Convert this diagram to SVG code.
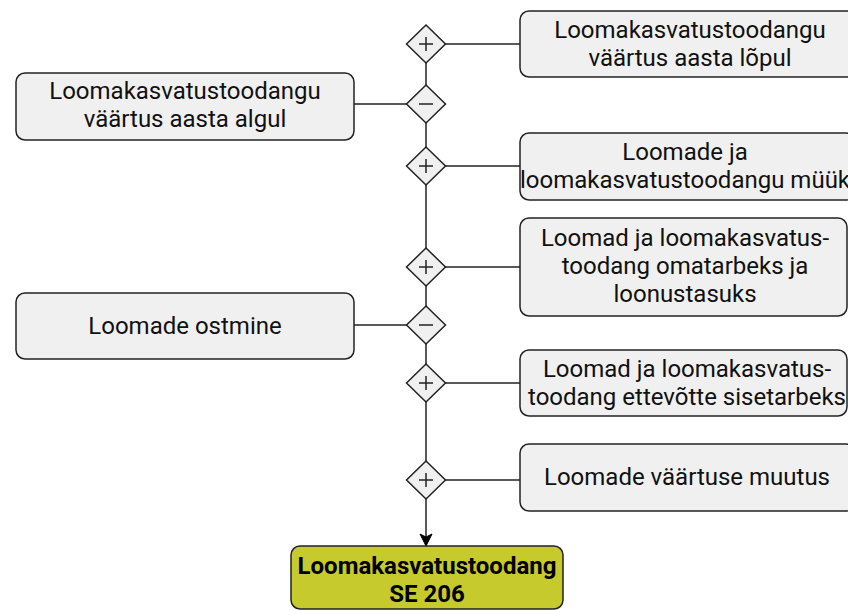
<svg xmlns="http://www.w3.org/2000/svg" width="848" height="610" viewBox="0 0 848 610">
<style>
.box{fill:#f0f0f0;stroke:#222;stroke-width:1.5}
.dia{fill:#f0f0f0;stroke:#222;stroke-width:1.5}
.sign{stroke:#222;stroke-width:1.5;fill:none}
.ln{stroke:#222;stroke-width:1.5;fill:none}
text{font-family:Roboto,"Liberation Sans",sans-serif;font-size:24px;fill:#111;text-anchor:middle}
.b{font-weight:bold;fill:#000}
</style>
<defs>
<marker id="arr" markerWidth="14" markerHeight="14" refX="12" refY="7" orient="auto" markerUnits="userSpaceOnUse">
<path d="M1,1 L13,7 L1,13 L4,7 Z" fill="#000" stroke="#000" stroke-width="1"/>
</marker>
</defs>
<g id="connectors">
<line class="ln" x1="426" y1="44" x2="426" y2="545" marker-end="url(#arr)"/>
<line class="ln" x1="445" y1="44" x2="520" y2="44"/>
<line class="ln" x1="354" y1="104" x2="407" y2="104"/>
<line class="ln" x1="445" y1="166" x2="520" y2="166"/>
<line class="ln" x1="445" y1="267" x2="520" y2="267"/>
<line class="ln" x1="354" y1="325" x2="407" y2="325"/>
<line class="ln" x1="445" y1="383" x2="520" y2="383"/>
<line class="ln" x1="445" y1="480" x2="520" y2="480"/>
</g>
<g id="d1"><path class="dia" d="M426,25 L445.5,44 L426,63 L406.5,44 Z"/><path class="sign" d="M419,44 H433 M426,37 V51"/></g>
<g id="d2"><path class="dia" d="M426,85 L445.5,104 L426,123 L406.5,104 Z"/><path class="sign" d="M419,104 H433"/></g>
<g id="d3"><path class="dia" d="M426,147 L445.5,166 L426,185 L406.5,166 Z"/><path class="sign" d="M419,166 H433 M426,159 V173"/></g>
<g id="d4"><path class="dia" d="M426,248 L445.5,267 L426,286 L406.5,267 Z"/><path class="sign" d="M419,267 H433 M426,260 V274"/></g>
<g id="d5"><path class="dia" d="M426,306 L445.5,325 L426,344 L406.5,325 Z"/><path class="sign" d="M419,325 H433"/></g>
<g id="d6"><path class="dia" d="M426,364 L445.5,383 L426,402 L406.5,383 Z"/><path class="sign" d="M419,383 H433 M426,376 V390"/></g>
<g id="d7"><path class="dia" d="M426,461 L445.5,480 L426,499 L406.5,480 Z"/><path class="sign" d="M419,480 H433 M426,473 V487"/></g>
<g id="n1"><rect class="box" x="520" y="11" width="340" height="66" rx="9"/><text x="690" y="38">Loomakasvatustoodangu</text><text x="690" y="66">väärtus aasta lõpul</text></g>
<g id="n2"><rect class="box" x="16" y="73" width="338" height="67" rx="9"/><text x="185" y="99">Loomakasvatustoodangu</text><text x="185" y="127">väärtus aasta algul</text></g>
<g id="n3"><rect class="box" x="520" y="133" width="335" height="67" rx="9"/><text x="685" y="160">Loomade ja</text><text x="685" y="188">loomakasvatustoodangu müük</text></g>
<g id="n4"><rect class="box" x="520" y="218" width="327" height="98" rx="9"/><text x="685" y="246">Loomad ja loomakasvatus-</text><text x="685" y="274">toodang omatarbeks ja</text><text x="685" y="302">loonustasuks</text></g>
<g id="n5"><rect class="box" x="16" y="293" width="338" height="66" rx="9"/><text x="185" y="334">Loomade ostmine</text></g>
<g id="n6"><rect class="box" x="520" y="350" width="327" height="66" rx="9"/><text x="687" y="377">Loomad ja loomakasvatus-</text><text x="687" y="405">toodang ettevõtte sisetarbeks</text></g>
<g id="n7"><rect class="box" x="520" y="444" width="335" height="67" rx="9"/><text x="687" y="485">Loomade väärtuse muutus</text></g>
<g id="n8"><rect x="291" y="546" width="272" height="63" rx="9" fill="#c6ca2c" stroke="#222" stroke-width="1.5"/><text class="b" x="427" y="574">Loomakasvatustoodang</text><text class="b" x="427" y="602">SE 206</text></g>
</svg>
